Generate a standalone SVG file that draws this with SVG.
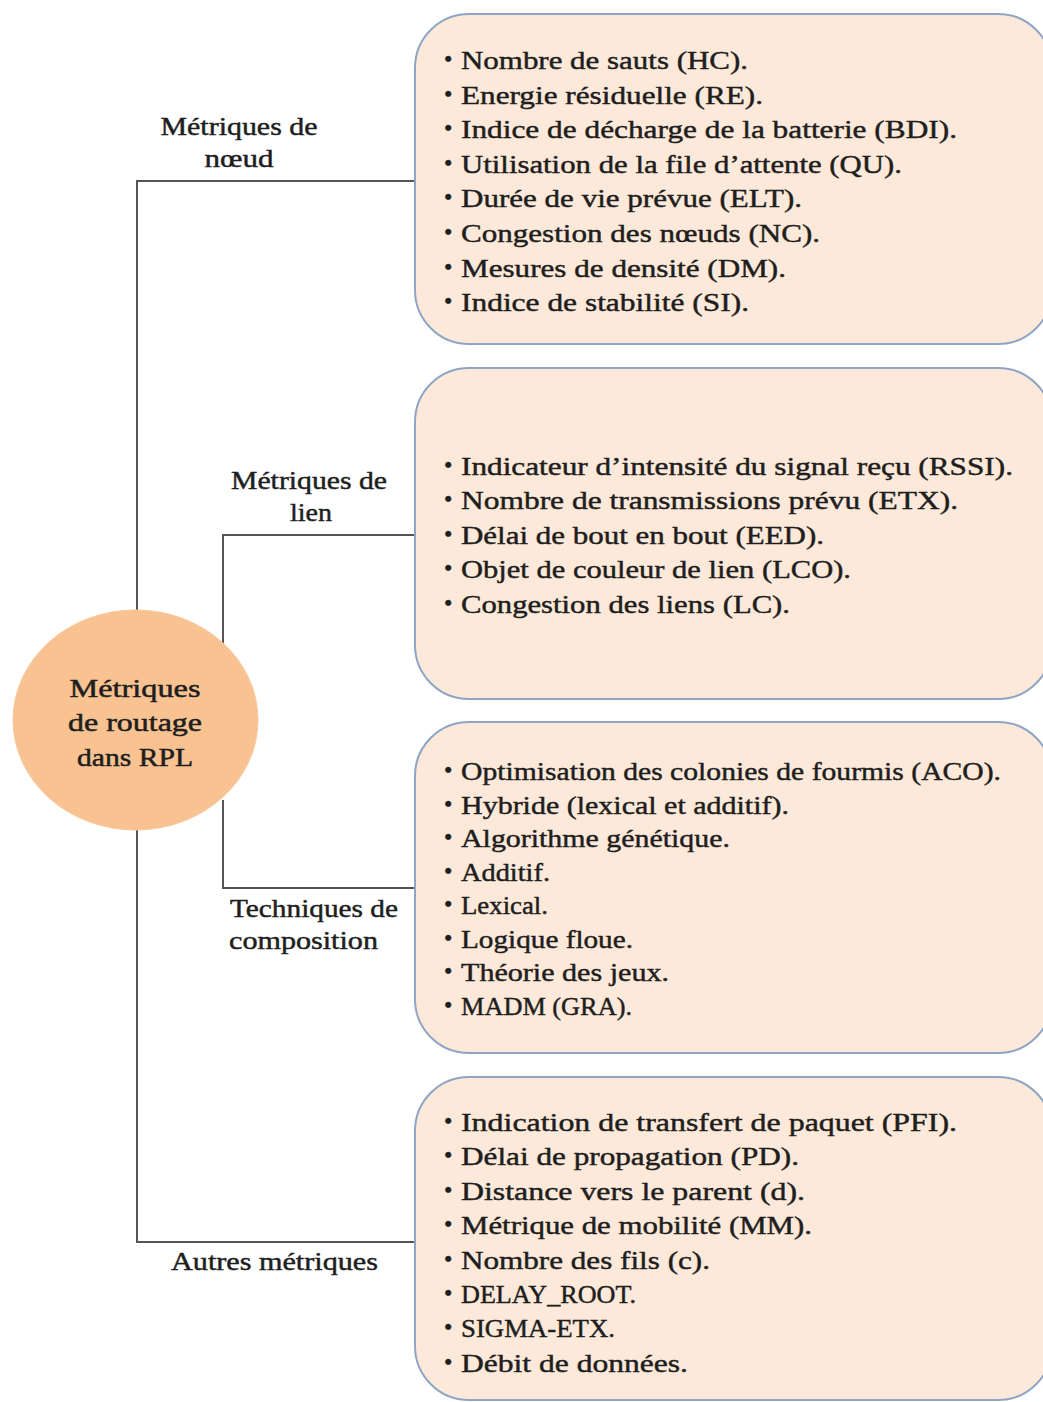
<svg xmlns="http://www.w3.org/2000/svg" width="1043" height="1402" viewBox="0 0 1043 1402">
  <defs>
    <style>
      .box { fill: #fde9d9; stroke: #8fa5c5; stroke-width: 2; }
      .hub { fill: #f9c291; stroke: #f7c9a0; stroke-width: 1; }
      .wire { fill: none; stroke: #555555; stroke-width: 2; }
      text { font-family: "Liberation Serif", "DejaVu Serif", serif; fill: #1e1e1e; stroke: #1e1e1e; stroke-width: 0.45; }
      .item { font-size: 26px; }
      .bul { font-size: 24px; }
      .lbl { font-size: 25px; }
      .hubtxt { font-size: 26px; text-anchor: middle; stroke-width: 0.5; }
      .mid { text-anchor: middle; }
    </style>
  </defs>

  <!-- tree connectors from the hub to the four category boxes -->
  <g id="connectors">
    <path class="wire" d="M137 611 V181 H415"/>
    <path class="wire" d="M137 830 V1242 H415"/>
    <path class="wire" d="M223 645 V535 H415"/>
    <path class="wire" d="M223 800 V888 H415"/>
  </g>

  <!-- branch labels -->
  <g id="labels">
    <text class="lbl mid" x="239" y="135" textLength="157" lengthAdjust="spacingAndGlyphs">Métriques de</text>
    <text class="lbl mid" x="239" y="167" textLength="69" lengthAdjust="spacingAndGlyphs">nœud</text>
    <text class="lbl mid" x="309" y="489" textLength="156" lengthAdjust="spacingAndGlyphs">Métriques de</text>
    <text class="lbl mid" x="311" y="521" textLength="42" lengthAdjust="spacingAndGlyphs">lien</text>
    <text class="lbl" x="230" y="917" textLength="168" lengthAdjust="spacingAndGlyphs">Techniques de</text>
    <text class="lbl" x="229" y="949" textLength="149" lengthAdjust="spacingAndGlyphs">composition</text>
    <text class="lbl" x="171" y="1270" textLength="207" lengthAdjust="spacingAndGlyphs">Autres métriques</text>
  </g>

  <!-- central node -->
  <g id="hub">
    <ellipse class="hub" cx="135.5" cy="720" rx="122.5" ry="110"/>
    <text class="hubtxt" x="135" y="697" textLength="131" lengthAdjust="spacingAndGlyphs">Métriques</text>
    <text class="hubtxt" x="135" y="731" textLength="134" lengthAdjust="spacingAndGlyphs">de routage</text>
    <text class="hubtxt" x="135" y="766" textLength="116" lengthAdjust="spacingAndGlyphs">dans RPL</text>
  </g>

  <!-- node metrics -->
  <g id="node-metrics">
    <rect class="box" x="415" y="14" width="637" height="330" rx="54"/>
    <g class="bul">
      <text x="444" y="67">•</text><text x="444" y="101.6">•</text><text x="444" y="136.2">•</text><text x="444" y="170.8">•</text>
      <text x="444" y="205.4">•</text><text x="444" y="240">•</text><text x="444" y="274.6">•</text><text x="444" y="309.2">•</text>
    </g>
    <g class="item">
      <text x="461" y="69" textLength="287" lengthAdjust="spacingAndGlyphs">Nombre de sauts (HC).</text>
      <text x="461" y="103.6" textLength="302" lengthAdjust="spacingAndGlyphs">Energie résiduelle (RE).</text>
      <text x="461" y="138.2" textLength="496" lengthAdjust="spacingAndGlyphs">Indice de décharge de la batterie (BDI).</text>
      <text x="461" y="172.8" textLength="441" lengthAdjust="spacingAndGlyphs">Utilisation de la file d’attente (QU).</text>
      <text x="461" y="207.4" textLength="341" lengthAdjust="spacingAndGlyphs">Durée de vie prévue (ELT).</text>
      <text x="461" y="242" textLength="359" lengthAdjust="spacingAndGlyphs">Congestion des nœuds (NC).</text>
      <text x="461" y="276.6" textLength="325" lengthAdjust="spacingAndGlyphs">Mesures de densité (DM).</text>
      <text x="461" y="311.2" textLength="288" lengthAdjust="spacingAndGlyphs">Indice de stabilité (SI).</text>
    </g>
  </g>

  <!-- link metrics -->
  <g id="link-metrics">
    <rect class="box" x="415" y="368" width="637" height="331" rx="54"/>
    <g class="bul">
      <text x="444" y="472.5">•</text><text x="444" y="507">•</text><text x="444" y="541.5">•</text><text x="444" y="576">•</text><text x="444" y="610.5">•</text>
    </g>
    <g class="item">
      <text x="461" y="474.5" textLength="552" lengthAdjust="spacingAndGlyphs">Indicateur d’intensité du signal reçu (RSSI).</text>
      <text x="461" y="509" textLength="497" lengthAdjust="spacingAndGlyphs">Nombre de transmissions prévu (ETX).</text>
      <text x="461" y="543.5" textLength="363" lengthAdjust="spacingAndGlyphs">Délai de bout en bout (EED).</text>
      <text x="461" y="578" textLength="390" lengthAdjust="spacingAndGlyphs">Objet de couleur de lien (LCO).</text>
      <text x="461" y="612.5" textLength="329" lengthAdjust="spacingAndGlyphs">Congestion des liens (LC).</text>
    </g>
  </g>

  <!-- composition techniques -->
  <g id="composition">
    <rect class="box" x="415" y="722" width="637" height="331" rx="54"/>
    <g class="bul">
      <text x="444" y="778">•</text><text x="444" y="811.5">•</text><text x="444" y="845">•</text><text x="444" y="878.5">•</text>
      <text x="444" y="912">•</text><text x="444" y="945.5">•</text><text x="444" y="979">•</text><text x="444" y="1012.5">•</text>
    </g>
    <g class="item" xml:space="preserve">
      <text x="461" y="780" textLength="540" lengthAdjust="spacingAndGlyphs">Optimisation  des colonies de fourmis (ACO).</text>
      <text x="461" y="813.5" textLength="328" lengthAdjust="spacingAndGlyphs">Hybride (lexical  et additif).</text>
      <text x="461" y="847" textLength="269" lengthAdjust="spacingAndGlyphs">Algorithme  génétique.</text>
      <text x="461" y="880.5" textLength="89" lengthAdjust="spacingAndGlyphs">Additif.</text>
      <text x="461" y="914" textLength="87" lengthAdjust="spacingAndGlyphs">Lexical.</text>
      <text x="461" y="947.5" textLength="172" lengthAdjust="spacingAndGlyphs">Logique  floue.</text>
      <text x="461" y="981" textLength="208" lengthAdjust="spacingAndGlyphs">Théorie des jeux.</text>
      <text x="461" y="1014.5" textLength="171" lengthAdjust="spacingAndGlyphs">MADM (GRA).</text>
    </g>
  </g>

  <!-- other metrics -->
  <g id="other-metrics">
    <rect class="box" x="415" y="1077" width="637" height="323" rx="54"/>
    <g class="bul">
      <text x="444" y="1129">•</text><text x="444" y="1163.4">•</text><text x="444" y="1197.8">•</text><text x="444" y="1232.2">•</text>
      <text x="444" y="1266.6">•</text><text x="444" y="1301">•</text><text x="444" y="1335.4">•</text><text x="444" y="1369.8">•</text>
    </g>
    <g class="item">
      <text x="461" y="1131" textLength="496" lengthAdjust="spacingAndGlyphs">Indication de transfert de paquet (PFI).</text>
      <text x="461" y="1165.4" textLength="338" lengthAdjust="spacingAndGlyphs">Délai de propagation (PD).</text>
      <text x="461" y="1199.8" textLength="344" lengthAdjust="spacingAndGlyphs">Distance vers le parent (d).</text>
      <text x="461" y="1234.2" textLength="351" lengthAdjust="spacingAndGlyphs">Métrique de mobilité (MM).</text>
      <text x="461" y="1268.6" textLength="249" lengthAdjust="spacingAndGlyphs">Nombre des fils (c).</text>
      <text x="461" y="1303" textLength="175" lengthAdjust="spacingAndGlyphs">DELAY_ROOT.</text>
      <text x="461" y="1337.4" textLength="154" lengthAdjust="spacingAndGlyphs">SIGMA-ETX.</text>
      <text x="461" y="1371.8" textLength="227" lengthAdjust="spacingAndGlyphs">Débit de données.</text>
    </g>
  </g>
</svg>
